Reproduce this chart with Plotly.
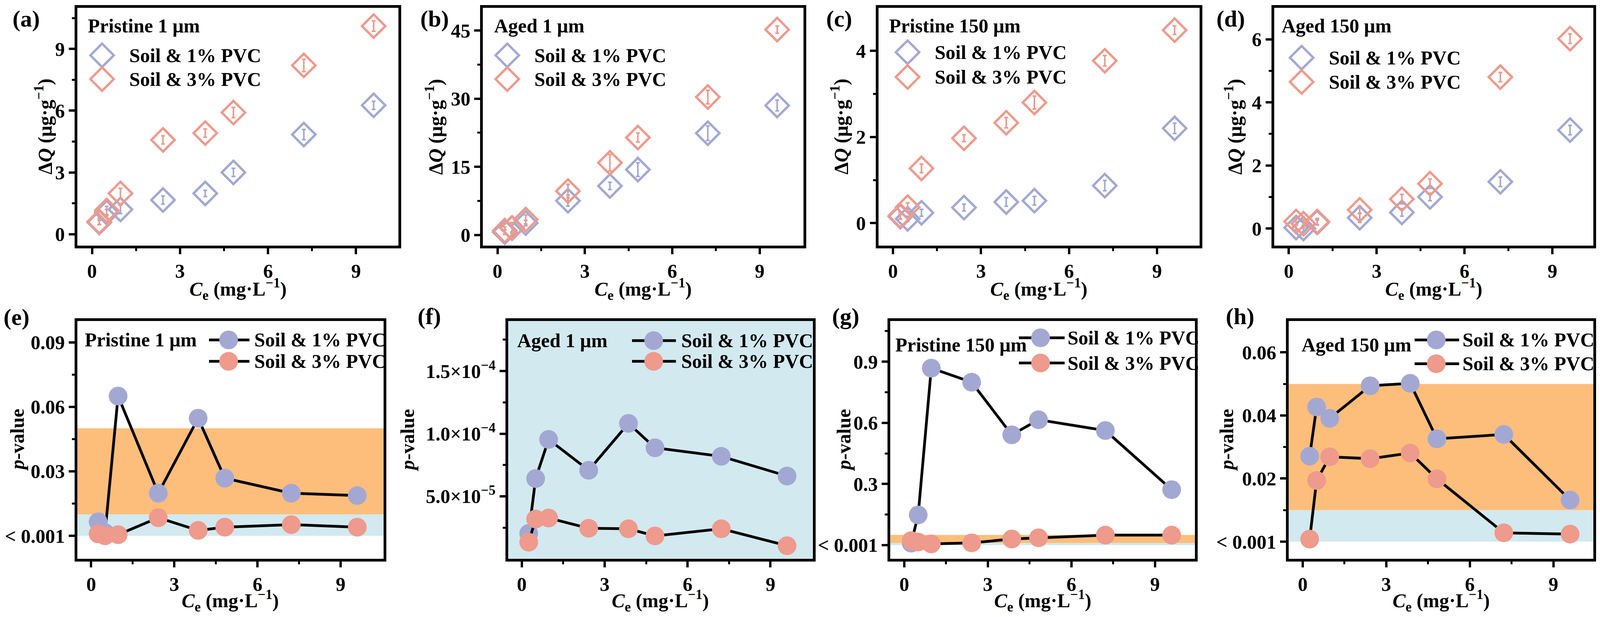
import plotly.graph_objects as go

# ---------------- data ----------------
CE = [0.25, 0.5, 0.97, 2.42, 3.86, 4.82, 7.22, 9.6]

DQ_P1_PVC1 = [0.57, 1.05, 1.2, 1.66, 1.98, 3.0, 4.84, 6.26]
DQ_P1_PVC3 = [0.61, 1.15, 1.98, 4.58, 4.91, 5.91, 8.2, 10.11]
DQ_A1_PVC1 = [0.64, 1.5, 2.64, 7.55, 10.8, 14.4, 22.4, 28.5]
DQ_A1_PVC3 = [0.98, 1.58, 3.41, 9.68, 15.9, 21.45, 30.36, 45.2]
DQ_P150_PVC1 = [0.15, 0.1, 0.24, 0.36, 0.49, 0.52, 0.87, 2.2]
DQ_P150_PVC3 = [0.17, 0.37, 1.27, 1.97, 2.33, 2.8, 3.77, 4.48]
DQ_A150_PVC1 = [0.03, 0.0, 0.19, 0.34, 0.51, 1.0, 1.48, 3.12]
DQ_A150_PVC3 = [0.22, 0.15, 0.22, 0.59, 0.93, 1.42, 4.8, 6.02]

ERR_P1_PVC1 = [0.1, 0.15, 0.2, 0.2, 0.15, 0.2, 0.25, 0.2]
ERR_P1_PVC3 = [0.15, 0.2, 0.25, 0.2, 0.2, 0.25, 0.3, 0.25]
ERR_A1_PVC1 = [0.5, 0.8, 0.6, 1.2, 0.8, 1.5, 1.6, 1.2]
ERR_A1_PVC3 = [0.8, 1.2, 1.0, 1.5, 1.8, 1.0, 1.5, 0.8]
ERR_P150_PVC1 = [0.05, 0.06, 0.08, 0.08, 0.1, 0.1, 0.12, 0.12]
ERR_P150_PVC3 = [0.08, 0.1, 0.1, 0.08, 0.12, 0.15, 0.12, 0.1]
ERR_A150_PVC1 = [0.08, 0.1, 0.08, 0.15, 0.12, 0.12, 0.15, 0.15]
ERR_A150_PVC3 = [0.1, 0.12, 0.1, 0.12, 0.15, 0.15, 0.15, 0.15]

P_P1_PVC1 = [0.0065, 0.0014, 0.065, 0.0198, 0.0547, 0.0268, 0.0198, 0.0187]
P_P1_PVC3 = [0.0009, 0.0, 0.0005, 0.0084, 0.0025, 0.004, 0.0052, 0.004]
P_A1_PVC1 = [2.04e-5, 6.42e-5, 9.54e-5, 7.08e-5, 1.082e-4, 8.87e-5, 8.19e-5, 6.62e-5]
P_A1_PVC3 = [1.34e-5, 3.19e-5, 3.27e-5, 2.45e-5, 2.41e-5, 1.84e-5, 2.41e-5, 1.06e-5]
P_P150_PVC1 = [0.01, 0.148, 0.868, 0.799, 0.541, 0.615, 0.562, 0.272]
P_P150_PVC3 = [0.022, 0.015, 0.006, 0.011, 0.030, 0.036, 0.049, 0.049]
P_A150_PVC1 = [0.0271, 0.0427, 0.0391, 0.0494, 0.0502, 0.0326, 0.0340, 0.0132]
P_A150_PVC3 = [0.0008, 0.0194, 0.0269, 0.0263, 0.0281, 0.0199, 0.0028, 0.0024]

SERIES = ["Soil &amp; 1% PVC", "Soil &amp; 3% PVC"]
PANEL_TITLES = ["Pristine 1 μm", "Aged 1 μm", "Pristine 150 μm", "Aged 150 μm"]
PANEL_LETTERS = ["(a)", "(b)", "(c)", "(d)", "(e)", "(f)", "(g)", "(h)"]
X_TITLE = "<i>C</i><sub>e</sub> (mg·L<sup>−1</sup>)"
Y_TITLE_TOP = "Δ<i>Q</i> (μg·g<sup>−1</sup>)"
Y_TITLE_BOT = "<i>p</i>-value"

X_TICKS = [0, 3, 6, 9]
X_MINOR = [1.5, 4.5, 7.5]
Y_TICKS_TOP = [[0, 3, 6, 9], [0, 15, 30, 45], [0, 2, 4], [0, 2, 4, 6]]
Y_MINOR_TOP = [[1.5, 4.5, 7.5, 10.5], [7.5, 22.5, 37.5], [1, 3], [1, 3, 5]]
Y_TICKS_BOT = [[0, 0.03, 0.06, 0.09], [5e-5, 1e-4, 1.5e-4], [0, 0.3, 0.6, 0.9], [0, 0.02, 0.04, 0.06]]
Y_TEXT_BOT = [["&lt; 0.001", "0.03", "0.06", "0.09"],
              ["5.0×10<sup>−5</sup>", "1.0×10<sup>−4</sup>", "1.5×10<sup>−4</sup>"],
              ["&lt; 0.001", "0.3", "0.6", "0.9"],
              ["&lt; 0.001", "0.02", "0.04", "0.06"]]
Y_MINOR_BOT = [[0.015, 0.045, 0.075], [2.5e-5, 7.5e-5, 1.25e-4, 1.75e-4], [0.15, 0.45, 0.75, 1.05], [0.01, 0.03, 0.05]]
BAND_LOW = [0, 0.01]     # p < 0.01
BAND_MID = [0.01, 0.05]  # 0.01 < p < 0.05

# ---------------- style / layout ----------------
BLUE = "#A3A8D3"
RED = "#EE9A8C"
ORANGE = "#FDBE7C"
LIGHTBLUE = "#D2E9F0"
FONT = "Liberation Serif"

W, H = 4252, 1580   # reference canvas (layout fractions computed from it)
TOP_Y = [1 - 627 / H, 1 - 12 / H]
BOT_Y = [1 - 1438 / H, 1 - 822 / H]
TOP_X = [[198, 1055], [1280, 2135], [2335, 3192], [3391, 4243]]
BOT_X = [[198, 1015], [1347, 2160], [2367, 3180], [3430, 4243]]
TOP_XR = [[-0.5, 10.45], [-0.5, 10.5], [-0.5, 10.45], [-0.5, 10.4]]
TOP_YR = [[-0.55, 11.0], [-2.3, 50], [-0.52, 5.0], [-0.54, 7.0]]
BOT_XR = [[-0.5, 10.55], [-0.5, 10.53], [-0.5, 10.44], [-0.5, 10.44]]
BOT_YR = [[-0.0108, 0.1], [0, 1.9e-4], [-0.068, 1.1], [-0.0055, 0.07]]
TOP_YTITLE_X = [108, 1150, 2232, 3282]
BOT_YTITLE_X = [37, 1078, 2242, 3264]
TOP_XTITLE_Y = 740
BOT_XTITLE_Y = 1546

TOP_LEG = [dict(tx=0.03, dx=0.077, lx=0.159, r1=0.80, r2=0.70),
           dict(tx=0.033, dx=0.076, lx=0.158, r1=0.80, r2=0.70),
           dict(tx=0.031, dx=0.091, lx=0.173, r1=0.813, r2=0.709),
           dict(tx=0.021, dx=0.086, lx=0.169, r1=0.79, r2=0.688)]
BOT_LEG = [dict(tx=0.022, ty=0.92, l0=0.43, l1=0.562, cx=0.494, lx=0.575, r1=0.92, r2=0.83),
           dict(tx=0.027, ty=0.917, l0=0.407, l1=0.551, cx=0.478, lx=0.566, r1=0.917, r2=0.83),
           dict(tx=0.014, ty=0.90, l0=0.422, l1=0.572, cx=0.493, lx=0.579, r1=0.929, r2=0.823),
           dict(tx=0.039, ty=0.90, l0=0.413, l1=0.559, cx=0.484, lx=0.568, r1=0.92, r2=0.82)]
LETTER_POS = [(62, 40), (1151, 40), (2231, 40), (3275, 40), (36, 812), (1137, 810), (2248, 810), (3300, 810)]

top_data = [(DQ_P1_PVC1, ERR_P1_PVC1, DQ_P1_PVC3, ERR_P1_PVC3),
            (DQ_A1_PVC1, ERR_A1_PVC1, DQ_A1_PVC3, ERR_A1_PVC3),
            (DQ_P150_PVC1, ERR_P150_PVC1, DQ_P150_PVC3, ERR_P150_PVC3),
            (DQ_A150_PVC1, ERR_A150_PVC1, DQ_A150_PVC3, ERR_A150_PVC3)]
bot_data = [(P_P1_PVC1, P_P1_PVC3), (P_A1_PVC1, P_A1_PVC3),
            (P_P150_PVC1, P_P150_PVC3), (P_A150_PVC1, P_A150_PVC3)]

fig = go.Figure()
shapes = []
annotations = []

TFONT = dict(family=FONT, size=50, color="black", weight="bold")
axis_common = dict(showgrid=False, zeroline=False, showline=True, linecolor="black", linewidth=7,
                   mirror=True, ticks="outside", ticklen=15, tickwidth=6, tickcolor="black",
                   automargin=False, tickfont=TFONT)
minor_common = dict(tickmode="array", ticks="outside", ticklen=7, tickwidth=5, tickcolor="black")


def add_titles(xdom, ydom, ytitle_x, xtitle_y, ytext):
    annotations.append(dict(xref="paper", yref="paper", x=ytitle_x / W, y=(ydom[0] + ydom[1]) / 2,
                            xanchor="center", yanchor="middle", textangle=-90, text=ytext,
                            showarrow=False, font=TFONT))
    annotations.append(dict(xref="paper", yref="paper", x=(xdom[0] + xdom[1]) / 2, y=1 - xtitle_y / H,
                            xanchor="center", yanchor="middle", text=X_TITLE, showarrow=False, font=TFONT))


for i in range(4):
    n = i + 1
    xa = "x" if n == 1 else f"x{n}"
    ya = "y" if n == 1 else f"y{n}"
    b1, e1, b3, e3 = top_data[i]
    for vals, errs, col in ((b1, e1, BLUE), (b3, e3, RED)):
        fig.add_trace(go.Scatter(
            x=CE, y=vals, mode="markers", xaxis=xa, yaxis=ya, showlegend=False,
            marker=dict(symbol="diamond-open", size=46, color=col, line=dict(width=6, color=col)),
            error_y=dict(type="data", array=errs, visible=True, color=col, thickness=4, width=5)))
    xdom = [TOP_X[i][0] / W, TOP_X[i][1] / W]
    fig.layout[f"xaxis{'' if n == 1 else n}"] = dict(
        axis_common, domain=xdom, range=TOP_XR[i], anchor=ya,
        tickmode="array", tickvals=X_TICKS, minor=dict(minor_common, tickvals=X_MINOR))
    fig.layout[f"yaxis{'' if n == 1 else n}"] = dict(
        axis_common, domain=TOP_Y, range=TOP_YR[i], anchor=xa,
        tickmode="array", tickvals=Y_TICKS_TOP[i], minor=dict(minor_common, tickvals=Y_MINOR_TOP[i]))
    add_titles(xdom, TOP_Y, TOP_YTITLE_X[i], TOP_XTITLE_Y, Y_TITLE_TOP)
    L = TOP_LEG[i]
    annotations.append(dict(xref=f"{xa} domain", yref=f"{ya} domain", x=L["tx"], y=0.925,
                            xanchor="left", yanchor="middle", text=PANEL_TITLES[i], showarrow=False))
    for row, col, name in ((L["r1"], BLUE, SERIES[0]), (L["r2"], RED, SERIES[1])):
        shapes.append(dict(type="path", xref=f"{xa} domain", yref=f"{ya} domain",
                           xsizemode="pixel", ysizemode="pixel", xanchor=L["dx"], yanchor=row,
                           path="M0,-30 L30,0 L0,30 L-30,0 Z", line=dict(color=col, width=6)))
        annotations.append(dict(xref=f"{xa} domain", yref=f"{ya} domain", x=L["lx"], y=row,
                                xanchor="left", yanchor="middle", text=name, showarrow=False))

for i in range(4):
    n = i + 5
    xa, ya = f"x{n}", f"y{n}"
    p1, p3 = bot_data[i]
    for vals, col in ((p1, BLUE), (p3, RED)):
        fig.add_trace(go.Scatter(
            x=CE, y=vals, mode="lines+markers", xaxis=xa, yaxis=ya, showlegend=False,
            line=dict(color="black", width=7),
            marker=dict(symbol="circle", size=48, color=col, line=dict(width=0))))
    xdom = [BOT_X[i][0] / W, BOT_X[i][1] / W]
    fig.layout[f"xaxis{n}"] = dict(
        axis_common, domain=xdom, range=BOT_XR[i], anchor=ya,
        tickmode="array", tickvals=X_TICKS, minor=dict(minor_common, tickvals=X_MINOR))
    fig.layout[f"yaxis{n}"] = dict(
        axis_common, domain=BOT_Y, range=BOT_YR[i], anchor=xa,
        tickmode="array", tickvals=Y_TICKS_BOT[i], ticktext=Y_TEXT_BOT[i],
        minor=dict(minor_common, tickvals=Y_MINOR_BOT[i]))
    add_titles(xdom, BOT_Y, BOT_YTITLE_X[i], BOT_XTITLE_Y, Y_TITLE_BOT)
    if i == 1:
        shapes.append(dict(type="rect", xref=f"{xa} domain", yref=f"{ya} domain", x0=0, x1=1, y0=0, y1=1,
                           fillcolor=LIGHTBLUE, line=dict(width=0), layer="below"))
    else:
        shapes.append(dict(type="rect", xref=f"{xa} domain", yref=ya, x0=0, x1=1, y0=BAND_LOW[0], y1=BAND_LOW[1],
                           fillcolor=LIGHTBLUE, line=dict(width=0), layer="below"))
        shapes.append(dict(type="rect", xref=f"{xa} domain", yref=ya, x0=0, x1=1, y0=BAND_MID[0], y1=BAND_MID[1],
                           fillcolor=ORANGE, line=dict(width=0), layer="below"))
    L = BOT_LEG[i]
    annotations.append(dict(xref=f"{xa} domain", yref=f"{ya} domain", x=L["tx"], y=L["ty"],
                            xanchor="left", yanchor="middle", text=PANEL_TITLES[i], showarrow=False))
    for row, col, name in ((L["r1"], BLUE, SERIES[0]), (L["r2"], RED, SERIES[1])):
        shapes.append(dict(type="line", xref=f"{xa} domain", yref=f"{ya} domain",
                           x0=L["l0"], x1=L["l1"], y0=row, y1=row, line=dict(color="black", width=7)))
        shapes.append(dict(type="circle", xref=f"{xa} domain", yref=f"{ya} domain",
                           xsizemode="pixel", ysizemode="pixel", xanchor=L["cx"], yanchor=row,
                           x0=-24, x1=24, y0=-24, y1=24, fillcolor=col, line=dict(width=0)))
        annotations.append(dict(xref=f"{xa} domain", yref=f"{ya} domain", x=L["lx"], y=row,
                                xanchor="left", yanchor="middle", text=name, showarrow=False))

for (lx, ly), letter in zip(LETTER_POS, PANEL_LETTERS):
    annotations.append(dict(xref="paper", yref="paper", x=lx / W, y=1 - ly / H, xanchor="center",
                            yanchor="middle", text=letter, showarrow=False,
                            font=dict(family=FONT, size=60, color="black", weight="bold")))

# figure fills the browser window (no fixed pixel size)
fig.update_layout(
    autosize=True, margin=dict(l=0, r=0, t=0, b=0, autoexpand=False),
    paper_bgcolor="white", plot_bgcolor="white", showlegend=False,
    font=dict(family=FONT, size=50, color="black", weight="bold"),
    shapes=shapes, annotations=annotations)

fig.write_html("out.html")
